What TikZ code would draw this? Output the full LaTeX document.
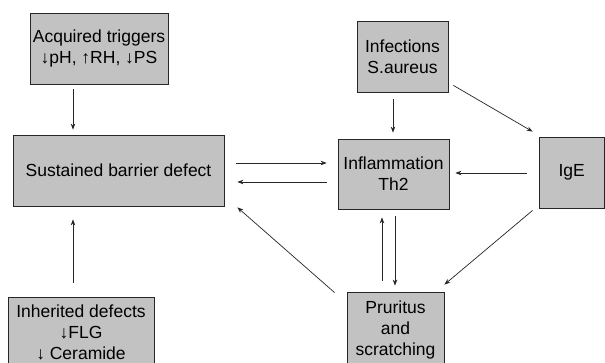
\documentclass[tikz,border=0pt]{standalone}
\usepackage{fontspec}
\setmainfont{Liberation Sans}
\usetikzlibrary{arrows.meta,calc}
\begin{document}
\begin{tikzpicture}[x=1pt,y=-1pt,
  box/.style={draw=black!85, fill=black!24, line width=0.8pt, align=center,
    font=\fontsize{17.5}{21}\selectfont, inner sep=0pt},
  arr/.style={-{Stealth[length=6pt,width=4.5pt]}, line width=0.7pt, draw=black!85}]
\useasboundingbox (0,0) rectangle (605,363);
\clip (0,0) rectangle (605,363);
\fill[white] (0,0) rectangle (605,363);
\node[box, minimum width=138, minimum height=71] (acq) at (99,48.5) {Acquired triggers\\↓pH, ↑RH, ↓PS};
\node[box, minimum width=211, minimum height=71] (sbd) at (118.5,170.5) {Sustained barrier defect};
\node[box, minimum width=146, minimum height=71] (inh) at (81,332.5) {Inherited defects\\↓FLG\\↓ Ceramide};
\node[box, minimum width=91, minimum height=71] (infe) at (402.5,56.5) {Infections\\S.aureus};
\node[box, minimum width=111, minimum height=70] (infl) at (393.5,174) {Inflammation\\Th2};
\node[box, minimum width=65.5, minimum height=71] (ige) at (571.75,172.5) {IgE};
\node[box, minimum width=97, minimum height=76] (pru) at (395.5,330) {Pruritus\\and\\scratching};
% arrows
\draw[arr] ($(acq.south)+(-26,5)$) -- ($(sbd.north)+(-45.5,-5)$);
\draw[arr] ($(inh.north)+(-8,-14)$) -- ($(sbd.south)+(-45.5,13)$);
\draw[arr] ($(sbd.east)+(12,-7.5)$) -- ($(infl.west)+(-11,-11)$);
\draw[arr] ($(infl.west)+(-11,8)$) -- ($(sbd.east)+(13,11.5)$);
\draw[arr] ($(pru.north west)+(-12,1)$) -- ($(sbd.south east)+(13,1)$);
\draw[arr] ($(infe.south)+(-9.5,7)$) -- ($(infl.north)+(-0.5,-6)$);
\draw[arr] ($(infe.south east)+(5,-7)$) -- ($(ige.north west)+(-6,-5)$);
\draw[arr] ($(ige.west)+(-12,0.5)$) -- ($(infl.east)+(6,-1)$);
\draw[arr] ($(ige.south west)+(-6,2)$) -- ($(pru.north east)+(0,-7)$);
\draw[arr] ($(pru.north)+(-13.5,-11)$) -- ($(infl.south)+(-11.5,8)$);
\draw[arr] ($(infl.south)+(1.5,7)$) -- ($(pru.north)+(-0.5,-6)$);
\end{tikzpicture}
\end{document}
